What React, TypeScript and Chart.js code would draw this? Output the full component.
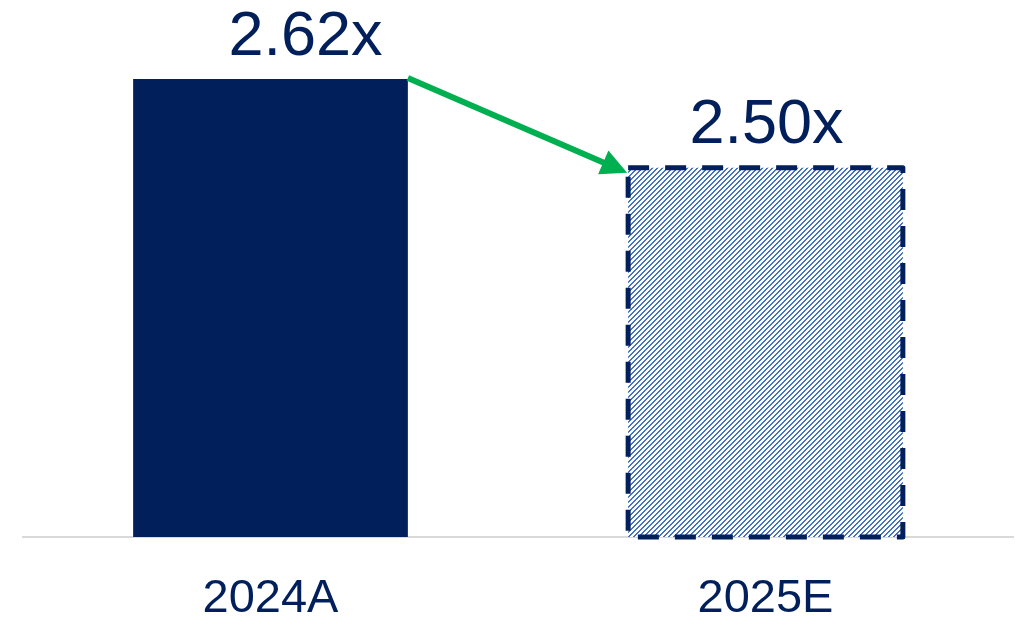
import React, { useEffect, useRef } from "react";
import { Chart, registerables } from "chart.js";

Chart.register(...registerables);

const categories = ["2024A", "2025E"];
const values = [2.62, 2.5];
const valueLabels = ["2.62x", "2.50x"];

const NAVY = "#001F5B";
const GREEN = "#00B050";
const HATCH = "#4472C4";

function makeHatch(): CanvasPattern | string {
  const n = 5;
  const c = document.createElement("canvas");
  c.width = n;
  c.height = n;
  const g = c.getContext("2d");
  if (!g) return HATCH;
  g.fillStyle = "#ffffff";
  g.fillRect(0, 0, n, n);
  g.fillStyle = HATCH;
  for (let y = 0; y < n; y++) {
    const x1 = (n - 1 - y + n) % n;
    const x2 = (x1 + 1) % n;
    g.fillRect(x1, y, 1, 1);
    g.fillRect(x2, y, 1, 1);
  }
  const p = g.createPattern(c, "repeat");
  return p || HATCH;
}

const decorPlugin = {
  id: "decor",
  afterDatasetsDraw(chart: any, _args: any, opts: any) {
    const ctx = chart.ctx;
    const meta = chart.getDatasetMeta(0);
    const b1 = meta.data[0] as any;
    const b2 = meta.data[1] as any;
    if (!b1 || !b2) return;
    // dashed border for estimate bar
    const l = b2.x - b2.width / 2;
    const r = b2.x + b2.width / 2;
    const t = b2.y;
    const bt = chart.chartArea.bottom;
    ctx.save();
    ctx.strokeStyle = NAVY;
    ctx.lineWidth = 5;
    ctx.setLineDash([21, 16]);
    ctx.lineJoin = "round";
    ctx.beginPath();
    ctx.moveTo(l, t);
    ctx.lineTo(r, t);
    ctx.lineTo(r, bt);
    ctx.lineTo(l, bt);
    ctx.closePath();
    ctx.stroke();
    ctx.restore();

    // arrow
    const sx = b1.x + b1.width / 2;
    const sy = b1.y - 1;
    const ex = l - 1;
    const ey = t + 5;
    const ang = Math.atan2(ey - sy, ex - sx);
    const headLen = 26;
    const headHalf = 13;
    const bx = ex - headLen * Math.cos(ang);
    const by = ey - headLen * Math.sin(ang);
    ctx.save();
    ctx.strokeStyle = GREEN;
    ctx.fillStyle = GREEN;
    ctx.lineWidth = 6;
    ctx.beginPath();
    ctx.moveTo(sx, sy);
    ctx.lineTo(bx + 2 * Math.cos(ang), by + 2 * Math.sin(ang));
    ctx.stroke();
    ctx.beginPath();
    ctx.moveTo(ex, ey);
    ctx.lineTo(bx + headHalf * Math.sin(ang), by - headHalf * Math.cos(ang));
    ctx.lineTo(bx - headHalf * Math.sin(ang), by + headHalf * Math.cos(ang));
    ctx.closePath();
    ctx.fill();
    ctx.restore();

    // value labels
    const offs: number[] = opts.xOffsets || [0, 0];
    const gaps: number[] = opts.gaps || [24, 24];
    ctx.save();
    ctx.fillStyle = NAVY;
    ctx.font = "63px 'Liberation Sans', Arial, sans-serif";
    ctx.textAlign = "center";
    ctx.textBaseline = "alphabetic";
    meta.data.forEach((el: any, i: number) => {
      ctx.fillText(valueLabels[i], el.x + offs[i], el.y - gaps[i]);
    });
    ctx.restore();
  },
};

export default function App() {
  const ref = useRef<HTMLCanvasElement | null>(null);
  useEffect(() => {
    if (!ref.current) return;
    const hatch = makeHatch();
    const chart = new Chart(ref.current, {
      type: "bar",
      data: {
        labels: categories,
        datasets: [
          {
            data: values,
            backgroundColor: [NAVY, hatch as any],
            borderWidth: 0,
            categoryPercentage: 1,
            barPercentage: 0.555,
          },
        ],
      },
      options: {
        animation: false,
        responsive: true,
        maintainAspectRatio: false,
        layout: { padding: { left: 23, right: 2, top: 20, bottom: -45 } },
        plugins: {
          legend: { display: false },
          tooltip: { enabled: false },
          decor: { xOffsets: [35, 1], gaps: [24, 25] },
        } as any,
        scales: {
          y: { display: false, min: 2.0, max: 2.7 },
          x: {
            grid: { display: false, drawTicks: false, tickLength: 0 },
            border: { display: true, color: "#d9d9d9", width: 2 },
            ticks: {
              color: NAVY,
              padding: 39,
              font: { family: "'Liberation Sans', Arial, sans-serif", size: 47, lineHeight: 1 },
            },
          },
        },
      },
      plugins: [decorPlugin],
    });
    return () => chart.destroy();
  }, []);
  return (
    <div style={{ position: "absolute", left: 0, top: 0, width: 1015, height: 617, background: "#fff" }}>
      <canvas ref={ref} />
    </div>
  );
}
